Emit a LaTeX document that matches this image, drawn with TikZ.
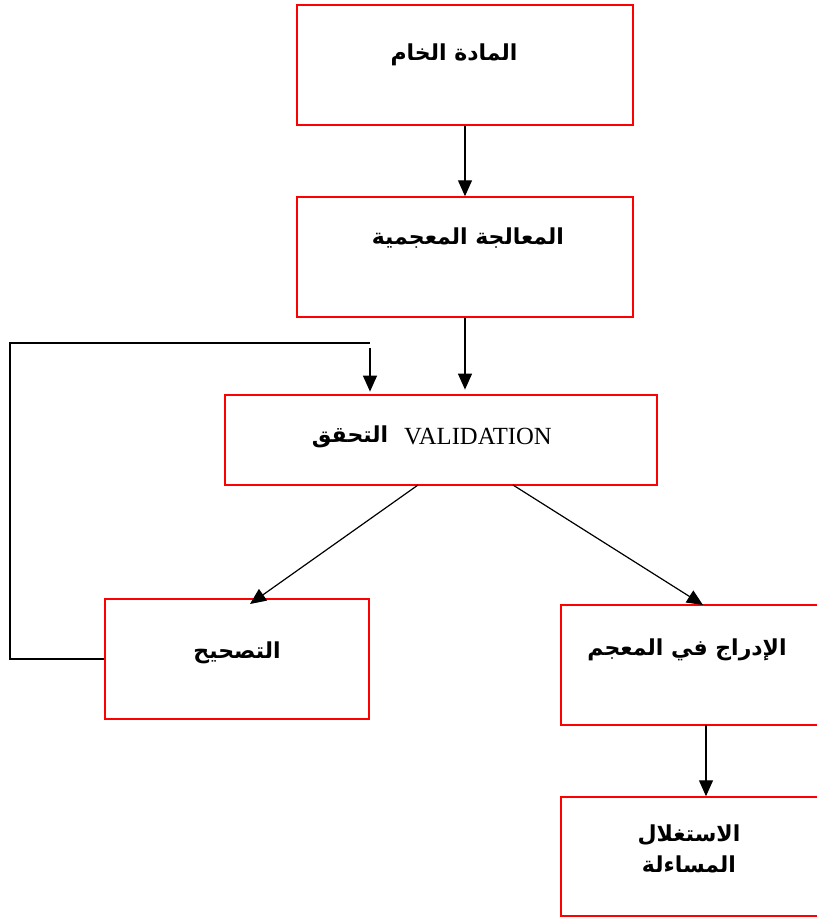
\documentclass[tikz,border=0pt]{standalone}
\usepackage{fontspec}
\setmainfont{Liberation Serif}
\newfontfamily\arabicfont[Script=Arabic]{DejaVu Sans}
\TeXXeTstate=1
\usetikzlibrary{arrows.meta,calc}
\begin{document}
\begin{tikzpicture}[x=0.75pt,y=-0.75pt,
 box/.style={draw=red,line width=1.1pt,rectangle,inner sep=0pt},
 arr/.style={draw=black,line width=0.9pt,-{Triangle[width=10.5pt,length=12pt]}},
 lnk/.style={draw=black,line width=0.9pt},
 ar/.style={font=\arabicfont\bfseries\fontsize{16.5}{23}\selectfont,inner sep=0pt,align=center},
 lat/.style={font=\fontsize{18.5}{22}\selectfont,inner sep=0pt},
]
\useasboundingbox (0,0) rectangle (817,918);
% boxes
\node[box,minimum width=252pt,minimum height=90pt] (b1) at (465,65) {};
\node[box,minimum width=252pt,minimum height=90pt] (b2) at (465,257) {};
\node[box,minimum width=324pt,minimum height=67.5pt] (b3) at (441,440) {};
\node[box,minimum width=198pt,minimum height=90pt] (b4) at (237,659) {};
\node[box,minimum width=201.75pt,minimum height=90pt] (b5) at (695.5,665) {};
\node[box,minimum width=201.75pt,minimum height=89.25pt] (b6) at (695.5,856.5) {};
% texts
\node[ar] (t1) at (454,55) {\beginR المادة الخام\endR};
\node[ar] (t2) at (468,238) {\beginR المعالجة المعجمية\endR};
\node[ar] (t3a) at (350,437) {\beginR التحقق\endR};
\node[lat] (t3b) at (478,437) {VALIDATION};
\node[ar] (t4) at (237,653) {\beginR التصحيح\endR};
\node[ar] (t5) at (687,650) {\beginR الإدراج في المعجم\endR};
\node[ar] (t6) at (689,849) {\beginR الاستغلال\endR\\\beginR المساءلة\endR};
% connector points
\coordinate (fbl) at (10,343);
\coordinate (fbr) at (370,343);
\coordinate (fbs) at (370,348);
\coordinate (d1s) at (418,485);
\coordinate (d1e) at (250,604);
\coordinate (d2s) at (513,485);
\coordinate (d2e) at (703,605);
\coordinate (v5) at (706,725);
% connectors
\draw[arr] (b1.south) -- (b2.north);
\draw[arr,shorten >=3.5pt] (b2.south) -- (b2.south |- b3.north);
\draw[lnk] (b4.west) -| (fbl) -- (fbr);
\draw[arr,shorten >=2pt] (fbs) -- (fbs |- b3.north);
\draw[arr] (d1s) -- (d1e);
\draw[arr] (d2s) -- (d2e);
\draw[arr] (v5) -- (v5 |- b6.north);
\end{tikzpicture}
\end{document}
